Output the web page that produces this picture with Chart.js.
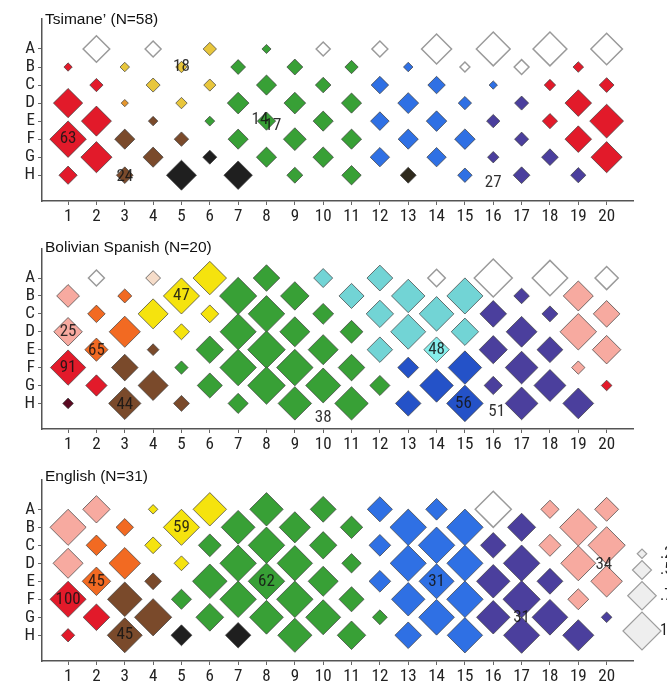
<!DOCTYPE html>
<html><head><meta charset="utf-8">
<script src="https://cdn.jsdelivr.net/npm/chart.js@4.4.1/dist/chart.umd.min.js"></script>
<style>
html,body{margin:0;padding:0;background:#fff;overflow:hidden;width:667px;height:682px;position:relative;}
canvas{position:absolute;left:0;}
</style></head><body>
<canvas id="c1" width="667" height="228" style="top:0px"></canvas>
<canvas id="c2" width="667" height="228" style="top:228px"></canvas>
<canvas id="c3" width="667" height="228" style="top:460px"></canvas>
<script>
// ---- categories ----
const columns = [1,2,3,4,5,6,7,8,9,10,11,12,13,14,15,16,17,18,19,20];
const rowLabels = ['A','B','C','D','E','F','G','H'];
// Cells form a checkerboard: rows A,C,E,G hold columns 2,4,...,20; rows B,D,F,H hold 1,3,...,19.
// Values = proportion (0..1); colour codes per cell.

// ---- Tsimane' (N=58) ----
const tsimaneSize = [
  [.70,.42,.35,.24,.37,.42,.79,.89,.89,.83],
  [.22,.25,.30,.39,.42,.35,.25,.26,.39,.28],
  [.35,.37,.32,.53,.41,.46,.46,.22,.30,.39],
  [.77,.19,.30,.57,.57,.53,.55,.35,.37,.70],
  [.79,.25,.26,.48,.53,.49,.54,.35,.40,.89],
  [.96,.53,.38,.53,.60,.53,.53,.54,.37,.70],
  [.82,.53,.37,.53,.54,.51,.51,.30,.44,.82],
  [.48,.44,.79,.75,.42,.51,.42,.38,.44,.40]
];
const tsimaneColor = ['WWyGWWWWWW','RyyGGGBWWR','RyyGGBBBRR','RoyGGGBBUR','RNGGGBBURR','RNNGGGBBUR','RNKGGBBUUR','RNKKGGkBUU'];
const tsimaneLabels = [
  {t:'18',x:5,y:7},{t:'14',x:7.77,y:4.1},{t:'17',x:8.23,y:3.75},
  {t:'63',x:1,y:3},{t:'24',x:3,y:0.9},{t:'27',x:16,y:0.6}
];

// ---- Bolivian Spanish (N=20) ----
const spanishSize = [
  [.42,.39,.88,.70,.50,.68,.46,1.0,.93,.61],
  [.60,.37,.95,.98,.75,.66,.88,.95,.41,.79],
  [.46,.79,.47,.96,.55,.72,.91,.70,.42,.70],
  [.75,.82,.42,.95,.79,.60,.92,.72,.81,.96],
  [.61,.31,.72,.99,.79,.67,.67,.74,.68,.75],
  [.93,.70,.35,.96,.96,.70,.55,.88,.86,.35],
  [.56,.79,.66,.99,.92,.53,.88,.48,.84,.28],
  [.28,.85,.42,.53,.88,.88,.67,.96,.86,.81]
];
const spanishColor = ['WQYGCCWWWW','POYGGCCCUP','OYYGGCCUUP','POYGGGCCUP','ONGGGCcUUP','RNGGGGbbUP','RNGGGGbUUR','MNNGGGbbUU'];
const spanishLabels = [
  {t:'47',x:5,y:7},{t:'25',x:1,y:5},{t:'65',x:2,y:3.95},{t:'91',x:1,y:3},
  {t:'44',x:3,y:0.95},{t:'38',x:10,y:0.2},{t:'48',x:14,y:4},{t:'56',x:14.95,y:1},{t:'51',x:16.12,y:0.55}
];

// ---- English (N=31) ----
const englishSize = [
  [.72,.25,.88,.88,.68,.66,.57,.95,.48,.63],
  [.95,.46,.95,.89,.82,.59,.96,.96,.74,.98],
  [.54,.44,.60,.96,.72,.57,.96,.67,.58,.98],
  [.79,.83,.39,.96,.93,.51,.95,.95,.96,.92],
  [.75,.44,.91,.96,.79,.57,.92,.88,.68,.83],
  [.95,.91,.53,.96,.96,.66,.88,.96,.98,.55],
  [.70,.98,.73,.89,.92,.39,.94,.88,.94,.28],
  [.35,.92,.55,.67,.90,.75,.70,.93,.95,.82]
];
const englishColor = ['PYYGGBBWPP','POYGGGBBUP','OYGGGBBUPP','POYGGGBBUP','ONGGGBBUUP','RNGGGGBBUP','RNGGGGBUUU','RNKKGGBBUU'];
const englishLabels = [
  {t:'59',x:5,y:7},{t:'45',x:2,y:4},{t:'100',x:1,y:3},{t:'45',x:3,y:1.05},
  {t:'62',x:8,y:4},{t:'31',x:14,y:4},{t:'31',x:17,y:2},{t:'34',x:19.9,y:4.9}
];

// ---- size legend ----
const legendSizes = [0.25, 0.5, 0.75, 1];
const legendTexts = ['.25', '.5', '.75', '1'];

// ---- styling ----
const palette = {
  R:'#e21a2a', P:'#f7aaa0', O:'#f26a22', o:'#e4962e', Y:'#f5e30e', y:'#e8c63c',
  N:'#7a4a2b', K:'#1f1f1f', k:'#2f2a1d', G:'#38a036', B:'#2f70e4', b:'#2452c8',
  C:'#72d4d5', c:'#86efec', U:'#4b3f9d', W:'#ffffff', M:'#5a0a22', Q:'#f5dcc9'
};
const MAXR = 19;
const NARROW = '"Liberation Sans Narrow","Arial Narrow","Roboto Condensed",sans-serif';

function cellsFrom(sizes, colors){
  const pts = [];
  sizes.forEach((row, r) => {
    const first = (r % 2 === 0) ? 2 : 1;
    row.forEach((p, i) => {
      pts.push({x: columns[first - 1 + 2*i], y: rowLabels.length - r, p: p, c: colors[r][i]});
    });
  });
  return pts;
}

const annot = {
  id:'annot',
  afterDatasetsDraw(chart, args, o){
    const {ctx, scales:{x, y}, chartArea} = chart;
    ctx.save();
    ctx.font = '17px ' + NARROW;
    ctx.fillStyle = 'rgba(20,20,20,0.88)';
    ctx.textAlign = 'center'; ctx.textBaseline = 'middle';
    o.labels.forEach(l => ctx.fillText(l.t, x.getPixelForValue(l.x), y.getPixelForValue(l.y)));
    ctx.textAlign = 'left';
    ctx.font = '15.5px "Liberation Sans", Arial, sans-serif';
    ctx.fillStyle = '#111';
    ctx.fillText(o.title, chartArea.left + 3, o.titleY);
    if (o.legend) {
      const cx = chartArea.right + 9;
      let cy = o.legendTop;
      let prev = 0;
      o.legend.forEach((v, i) => {
        const r = v * MAXR;
        cy += (i === 0 ? r : prev + r + 2);
        prev = r;
        ctx.beginPath();
        ctx.moveTo(cx - r, cy); ctx.lineTo(cx, cy - r); ctx.lineTo(cx + r, cy); ctx.lineTo(cx, cy + r); ctx.closePath();
        ctx.fillStyle = '#eeeeee'; ctx.fill();
        ctx.strokeStyle = '#9e9e9e'; ctx.lineWidth = 1.2; ctx.stroke();
        ctx.fillStyle = '#222';
        ctx.font = '16px ' + NARROW;
        ctx.fillText(legendTexts[i], cx + 18, cy);
      });
    }
    ctx.restore();
  }
};

function makeChart(id, title, titleY, sizes, colors, labels, legend){
  new Chart(document.getElementById(id), {
    type:'scatter',
    data:{datasets:[{
      data: cellsFrom(sizes, colors),
      pointStyle:'rectRot',
      pointRadius: c => c.raw.p * MAXR,
      pointHoverRadius: c => c.raw.p * MAXR,
      backgroundColor: c => palette[c.raw.c],
      borderColor: c => c.raw.c === 'W' ? '#9a9a9a' : 'rgba(60,60,60,0.7)',
      borderWidth: c => c.raw.c === 'W' ? 1.5 : 1,
      clip:false
    }]},
    options:{
      responsive:false, animation:false, devicePixelRatio:1, events:[],
      layout:{padding:{left:0, top:13, right:34, bottom:0}},
      plugins:{legend:{display:false}, tooltip:{enabled:false},
        annot:{title:title, titleY:titleY, labels:labels, legend:legend, legendTop:89}},
      scales:{
        x:{type:'linear', min:0.08, max:20.93,
          afterBuildTicks: s => { s.ticks = columns.map(v => ({value:v})); },
          afterFit: s => { s.height = 27; },
          ticks:{color:'#222', font:{size:17, family:NARROW}, padding:2, maxRotation:0, autoSkip:false},
          grid:{drawOnChartArea:false, drawTicks:true, tickLength:4, tickColor:'#666'},
          border:{display:true, color:'#555', width:1.5}
        },
        y:{type:'linear', min:-0.43, max:9.65,
          afterBuildTicks: s => { s.ticks = rowLabels.map((l, i) => ({value: rowLabels.length - i})); },
          afterFit: s => { s.width = 42; },
          ticks:{color:'#222', font:{size:17, family:NARROW}, padding:3, autoSkip:false,
            callback: v => rowLabels[rowLabels.length - v]},
          grid:{drawOnChartArea:false, drawTicks:true, tickLength:4, tickColor:'#666'},
          border:{display:true, color:'#555', width:1.5}
        }
      }
    },
    plugins:[annot]
  });
}

makeChart('c1', 'Tsimane\u2019 (N=58)', 20, tsimaneSize, tsimaneColor, tsimaneLabels, null);
makeChart('c2', 'Bolivian Spanish (N=20)', 20, spanishSize, spanishColor, spanishLabels, null);
makeChart('c3', 'English (N=31)', 17, englishSize, englishColor, englishLabels, legendSizes);
</script>
</body></html>
